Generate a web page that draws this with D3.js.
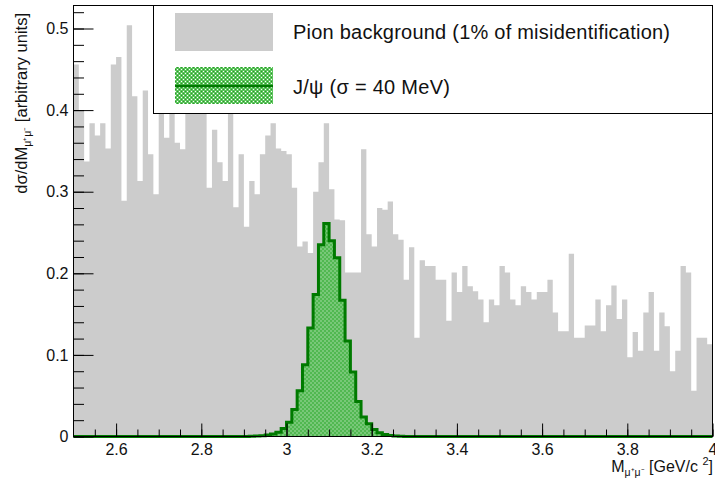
<!DOCTYPE html>
<html>
<head>
<meta charset="utf-8">
<script src="https://cdnjs.cloudflare.com/ajax/libs/d3/7.8.5/d3.min.js"></script>
<style>
  body { margin: 0; background: #fff; }
  svg { display: block; font-family: "Liberation Sans", Arial, Helvetica, sans-serif; }
  .tick line { stroke: #000; }
  .tick text { fill: #111; }
  .domain { display: none; }
</style>
</head>
<body>
<div id="chart"></div>
<script>
// histogram binning (2.5 .. 4.0 GeV, 120 bins)
var binLow = 2.5;
var binWidth = 0.0125;

// pion background, one value per bin
var pionBkg = [
  0.456, 0.400, 0.337, 0.384, 0.369, 0.384, 0.353, 0.456, 0.465, 0.289,
  0.504, 0.417, 0.313, 0.424, 0.346, 0.297, 0.430, 0.366, 0.410, 0.360,
  0.352, 0.440, 0.420, 0.470, 0.430, 0.305, 0.376, 0.336, 0.313, 0.410,
  0.281, 0.346, 0.257, 0.313, 0.297, 0.346, 0.369, 0.384, 0.353, 0.350,
  0.346, 0.305, 0.233, 0.239, 0.225, 0.300, 0.336, 0.384, 0.303, 0.266,
  0.265, 0.201, 0.201, 0.201, 0.352, 0.248, 0.233, 0.280, 0.278, 0.288,
  0.248, 0.241, 0.192, 0.232, 0.121, 0.216, 0.209, 0.209, 0.192, 0.192,
  0.142, 0.201, 0.177, 0.209, 0.184, 0.178, 0.168, 0.140, 0.168, 0.161,
  0.209, 0.201, 0.168, 0.161, 0.184, 0.177, 0.168, 0.177, 0.177, 0.192,
  0.152, 0.129, 0.129, 0.224, 0.121, 0.121, 0.136, 0.136, 0.168, 0.129,
  0.161, 0.185, 0.144, 0.168, 0.097, 0.128, 0.105, 0.152, 0.177, 0.105,
  0.152, 0.135, 0.080, 0.105, 0.209, 0.201, 0.056, 0.121, 0.121, 0.113
];

// J/psi signal, same binning
var jpsiSignal = [
  0, 0, 0, 0, 0, 0, 0, 0, 0, 0,
  0, 0, 0, 0, 0, 0, 0, 0, 0, 0,
  0, 0, 0, 0, 0, 0, 0, 0, 0, 0,
  0, 0, 0, 0.0003, 0.0006, 0.001, 0.0018, 0.003, 0.0053, 0.0098,
  0.0175, 0.033, 0.056, 0.088, 0.133, 0.174, 0.235, 0.261, 0.240, 0.219,
  0.167, 0.117, 0.079, 0.043, 0.024, 0.0155, 0.0086, 0.0045, 0.0025, 0.0013,
  0.0007, 0.0003, 0, 0, 0, 0, 0, 0, 0, 0,
  0, 0, 0, 0, 0, 0, 0, 0, 0, 0,
  0, 0, 0, 0, 0, 0, 0, 0, 0, 0,
  0, 0, 0, 0, 0, 0, 0, 0, 0, 0,
  0, 0, 0, 0, 0, 0, 0, 0, 0, 0,
  0, 0, 0, 0, 0, 0, 0, 0, 0, 0
];

var xMajor = [2.6, 2.8, 3, 3.2, 3.4, 3.6, 3.8, 4];
var yMajor = [0, 0.1, 0.2, 0.3, 0.4, 0.5];
var yMax = 0.5282;

var legendLabels = ["Pion background (1% of misidentification)", "J/\u03c8 (\u03c3 = 40 MeV)"];

var svgWidth = 715;
var svgHeight = 479;

var margin = {
  top: 5.5,
  right: 2.5,
  bottom: 42.5,
  left: 73.5
};

var width = svgWidth - margin.left - margin.right;
var height = svgHeight - margin.top - margin.bottom;

var grayFill = "#cccccc";
var greenLine = "#007a00";

var svg = d3.select("#chart")
  .append("svg")
  .attr("width", svgWidth)
  .attr("height", svgHeight);

// dotted green fill (ROOT-like pattern, holes let the background through)
var pat = svg.append("defs").append("pattern")
  .attr("id", "greenDots")
  .attr("patternUnits", "userSpaceOnUse")
  .attr("width", 4)
  .attr("height", 4);
var patRects = [[0, 0, 4, 1], [0, 1, 1, 1], [2, 1, 1, 1], [0, 2, 4, 1], [0, 3, 1, 1], [2, 3, 1, 1]];
patRects.forEach(function(r) {
  pat.append("rect").attr("x", r[0]).attr("y", r[1]).attr("width", r[2]).attr("height", r[3]).attr("fill", "#5cc65c");
});
pat.append("rect").attr("x", 3).attr("y", 1).attr("width", 1).attr("height", 1).attr("fill", "#2f8f2f");
pat.append("rect").attr("x", 1).attr("y", 3).attr("width", 1).attr("height", 1).attr("fill", "#2f8f2f");

var chartG = svg.append("g")
  .attr("transform", `translate(${margin.left}, ${margin.top})`);

var x = d3.scaleLinear().domain([2.5, 4]).range([0, width]);
var y = d3.scaleLinear().domain([0, yMax]).range([height, 0]);

// turn bin contents into step points
function stepPoints(vals) {
  var pts = vals.map(function(v, i) { return [binLow + i * binWidth, v]; });
  pts.push([binLow + vals.length * binWidth, vals[vals.length - 1]]);
  return pts;
}

var area = d3.area()
  .x(d => x(d[0]))
  .y0(y(0))
  .y1(d => y(d[1]))
  .curve(d3.curveStepAfter);

var line = d3.line()
  .x(d => x(d[0]))
  .y(d => y(d[1]))
  .curve(d3.curveStepAfter);

// background histogram
chartG.append("path")
  .attr("d", area(stepPoints(pionBkg)))
  .attr("fill", grayFill);

// J/psi histogram
var jpsiPts = stepPoints(jpsiSignal);
chartG.append("path")
  .attr("d", area(jpsiPts))
  .attr("fill", "url(#greenDots)");
chartG.append("path")
  .attr("d", line(jpsiPts))
  .attr("fill", "none")
  .attr("stroke", greenLine)
  .attr("stroke-width", 3)
  .attr("stroke-linejoin", "miter");

// x axis: minor ticks then major ticks with labels
chartG.append("g")
  .attr("transform", `translate(0, ${height})`)
  .call(d3.axisBottom(x).tickValues(d3.range(51, 81).map(i => i / 20)).tickSize(-7).tickSizeOuter(0).tickFormat(""));

chartG.append("g")
  .attr("transform", `translate(0, ${height})`)
  .call(d3.axisBottom(x).tickValues(xMajor).tickSize(-13).tickSizeOuter(0).tickPadding(7)
    .tickFormat(d => d3.format("")(+d.toFixed(1))))
  .selectAll("text")
  .attr("font-size", 16);

// y axis
chartG.append("g")
  .call(d3.axisLeft(y).tickValues(d3.range(0, 27).map(i => i / 50)).tickSize(-10.5).tickSizeOuter(0).tickFormat(""));

chartG.append("g")
  .call(d3.axisLeft(y).tickValues(yMajor).tickSize(-20).tickSizeOuter(0).tickPadding(5)
    .tickFormat(d => d === 0 ? "0" : d.toFixed(1)))
  .selectAll("text")
  .attr("font-size", 16);

// frame
chartG.append("rect")
  .attr("x", 0)
  .attr("y", 0)
  .attr("width", width)
  .attr("height", height)
  .attr("fill", "none")
  .attr("stroke", "#000")
  .attr("stroke-width", 1);

// axis titles
var xTitle = svg.append("text")
  .attr("x", 713)
  .attr("y", 471.5)
  .attr("text-anchor", "end")
  .attr("font-size", 16)
  .attr("fill", "#111");
xTitle.append("tspan").text("M");
xTitle.append("tspan").attr("font-size", 10.5).attr("dy", 4).text("\u03bc\u207a\u03bc\u207b");
xTitle.append("tspan").attr("dy", -4).text(" [GeV/c ");
xTitle.append("tspan").attr("font-size", 11).attr("dy", -7).text("2");
xTitle.append("tspan").attr("dy", 7).text("]");

var yTitle = svg.append("text")
  .attr("transform", "translate(26.5, 13) rotate(-90)")
  .attr("text-anchor", "end")
  .attr("font-size", 16.5)
  .attr("fill", "#111");
yTitle.append("tspan").text("d\u03c3/dM");
yTitle.append("tspan").attr("font-size", 10.5).attr("dy", 4).text("\u03bc\u207a\u03bc\u207b");
yTitle.append("tspan").attr("dy", -4).text(" [arbitrary units]");

// legend
var legendG = svg.append("g");

legendG.append("rect")
  .attr("x", 153.5)
  .attr("y", 5.5)
  .attr("width", 712.5 - 153.5)
  .attr("height", 108)
  .attr("fill", "#fff")
  .attr("stroke", "#000")
  .attr("stroke-width", 1);

legendG.append("rect")
  .attr("x", 175)
  .attr("y", 13)
  .attr("width", 98)
  .attr("height", 38)
  .attr("fill", grayFill);

legendG.append("rect")
  .attr("x", 175)
  .attr("y", 67)
  .attr("width", 98)
  .attr("height", 37)
  .attr("fill", "url(#greenDots)");

legendG.append("line")
  .attr("x1", 175)
  .attr("x2", 273)
  .attr("y1", 86)
  .attr("y2", 86)
  .attr("stroke", greenLine)
  .attr("stroke-width", 2.5);

legendG.append("text")
  .attr("x", 293)
  .attr("y", 38.5)
  .attr("font-size", 20)
  .attr("fill", "#111")
  .attr("textLength", 377)
  .attr("lengthAdjust", "spacing")
  .text(legendLabels[0]);

legendG.append("text")
  .attr("x", 293)
  .attr("y", 94)
  .attr("font-size", 20)
  .attr("fill", "#111")
  .attr("textLength", 157)
  .attr("lengthAdjust", "spacing")
  .text(legendLabels[1]);
</script>
</body>
</html>
